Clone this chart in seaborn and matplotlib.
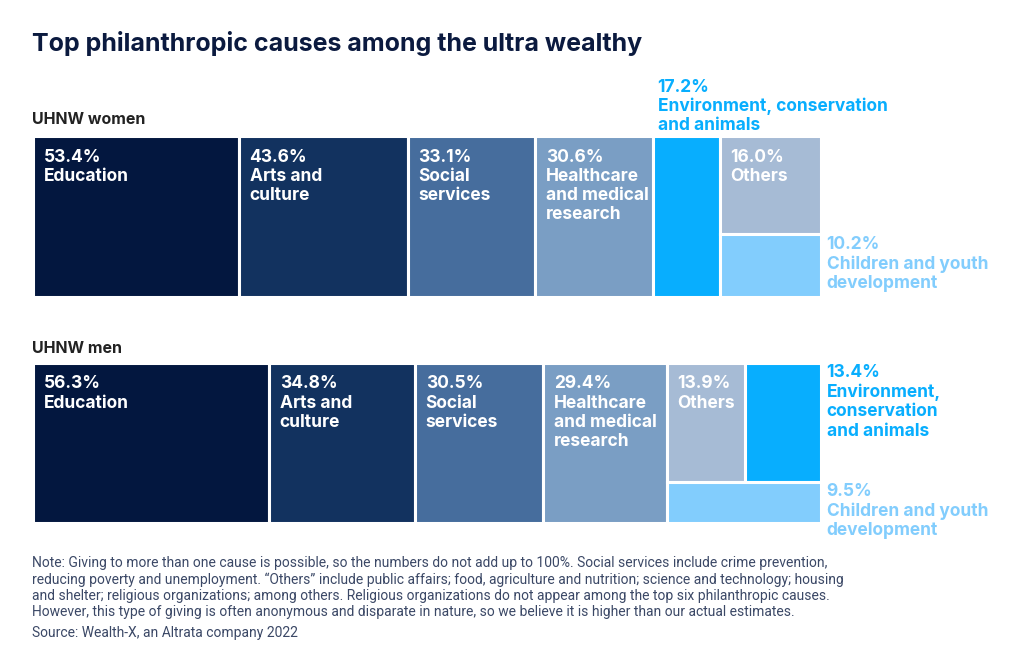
import numpy as np
import matplotlib
matplotlib.use("Agg")
import matplotlib.pyplot as plt
import seaborn as sns

# data
women_pct = [53.4, 43.6, 33.1, 30.6, 17.2, 16.0, 10.2]
men_pct = [56.3, 34.8, 30.5, 29.4, 13.4, 13.9, 9.5]
# order: education, arts, social, healthcare, environment, others, children
women_names = ["Education", "Arts and\nculture", "Social\nservices",
               "Healthcare\nand medical\nresearch",
               "Environment, conservation\nand animals", "Others",
               "Children and youth\ndevelopment"]
men_names = ["Education", "Arts and\nculture", "Social\nservices",
             "Healthcare\nand medical\nresearch",
             "Environment,\nconservation\nand animals", "Others",
             "Children and youth\ndevelopment"]
colors = ["#03173f", "#12325f", "#466d9d", "#7a9ec4", "#08aefe", "#a6bbd5", "#82cdfd"]

TITLE = "Top philanthropic causes among the ultra wealthy"
NOTE = ("Note: Giving to more than one cause is possible, so the numbers do not add up to 100%. "
        "Social services include crime prevention,\nreducing poverty and unemployment. \u201cOthers\u201d "
        "include public affairs; food, agriculture and nutrition; science and technology; housing\n"
        "and shelter; religious organizations; among others. Religious organizations do not appear "
        "among the top six philanthropic causes.\nHowever, this type of giving is often anonymous and "
        "disparate in nature, so we believe it is higher than our actual estimates.")
SOURCE = "Source: Wealth-X, an Altrata company 2022"

sns.set_theme(style="white")
plt.rcParams["font.family"] = ["Inter", "DejaVu Sans"]

W, H = 1024, 658
fig = plt.figure(figsize=(W / 100, H / 100), dpi=100)
fig.patch.set_facecolor("white")

EDGE = dict(edgecolor="white", linewidth=2.2)
LBL = dict(fontsize=12.5, fontweight="bold", linespacing=1.17, va="top", ha="left")


def inside_label(ax, x, y, pct, name, color="white"):
    ax.annotate(f"{pct:.1f}%\n{name}", xy=(x, y), xytext=(7.5, -9),
                textcoords="offset points", color=color, annotation_clip=False, **LBL)


def draw_row(ax, pct, names, layout):
    total = sum(pct)
    left = 0.0
    # four full-height blocks
    for i in range(4):
        ax.bar(left, 1, width=pct[i], bottom=0, align="edge", color=colors[i], **EDGE)
        inside_label(ax, left, 1, pct[i], names[i])
        left += pct[i]
    env, oth, chi = pct[4], pct[5], pct[6]
    if layout == "women":
        ax.bar(left, 1, width=env, align="edge", color=colors[4], **EDGE)
        ax.annotate(f"{env:.1f}%\n{names[4]}", xy=(left, 1), xytext=(3, 1.5),
                    textcoords="offset points", color=colors[4], annotation_clip=False,
                    **{**LBL, "va": "bottom", "linespacing": 1.12})
        left += env
        gw = oth + chi
        h_oth = oth / gw
        ax.bar(left, h_oth, width=gw, bottom=1 - h_oth, align="edge", color=colors[5], **EDGE)
        inside_label(ax, left, 1, oth, names[5])
        ax.bar(left, 1 - h_oth, width=gw, bottom=0, align="edge", color=colors[6], **EDGE)
        ax.annotate(f"{chi:.1f}%\n{names[6]}", xy=(left + gw, 1 - h_oth), xytext=(4, -1),
                    textcoords="offset points", color=colors[6], annotation_clip=False, **LBL)
    else:
        gw = oth + chi + env
        h_top = (oth + env) / gw
        w_oth = oth / (oth + env) * gw
        w_env = gw - w_oth
        ax.bar(left, h_top, width=w_oth, bottom=1 - h_top, align="edge", color=colors[5], **EDGE)
        inside_label(ax, left, 1, oth, names[5])
        ax.bar(left + w_oth, h_top, width=w_env, bottom=1 - h_top, align="edge",
               color=colors[4], **EDGE)
        ax.annotate(f"{env:.1f}%\n{names[4]}", xy=(left + gw, 1), xytext=(4, -1),
                    textcoords="offset points", color=colors[4], annotation_clip=False, **LBL)
        ax.bar(left, 1 - h_top, width=gw, bottom=0, align="edge", color=colors[6], **EDGE)
        ax.annotate(f"{chi:.1f}%\n{names[6]}", xy=(left + gw, 1 - h_top), xytext=(4, -1),
                    textcoords="offset points", color=colors[6], annotation_clip=False, **LBL)
    ax.set_xlim(0, total)
    ax.set_ylim(0, 1)
    ax.axis("off")


def px_axes(x0, y0, x1, y1):
    return fig.add_axes([x0 / W, 1 - y1 / H, (x1 - x0) / W, (y1 - y0) / H])


ax_w = px_axes(33, 136, 821, 297)
draw_row(ax_w, women_pct, women_names, "women")
ax_m = px_axes(33, 363, 821, 523)
draw_row(ax_m, men_pct, men_names, "men")

fig.text(32 / W, 1 - 43 / H, TITLE, fontsize=18, fontweight="bold", color="#0b1a3f",
         va="center", ha="left")
fig.text(32 / W, 1 - 119 / H, "UHNW women", fontsize=11.5, fontweight="bold", color="#222222",
         va="center", ha="left")
fig.text(32 / W, 1 - 349 / H, "UHNW men", fontsize=11.5, fontweight="bold", color="#222222",
         va="center", ha="left")
fig.text(32 / W, 1 - 556 / H, NOTE, fontsize=10, color="#3b4866", va="top", ha="left",
         linespacing=1.19, family=["Roboto", "DejaVu Sans"])
fig.text(32 / W, 1 - 633 / H, SOURCE, fontsize=10, color="#3b4866", va="center", ha="left",
         family=["Roboto", "DejaVu Sans"])

fig.savefig("out.png", dpi=100, facecolor="white")
